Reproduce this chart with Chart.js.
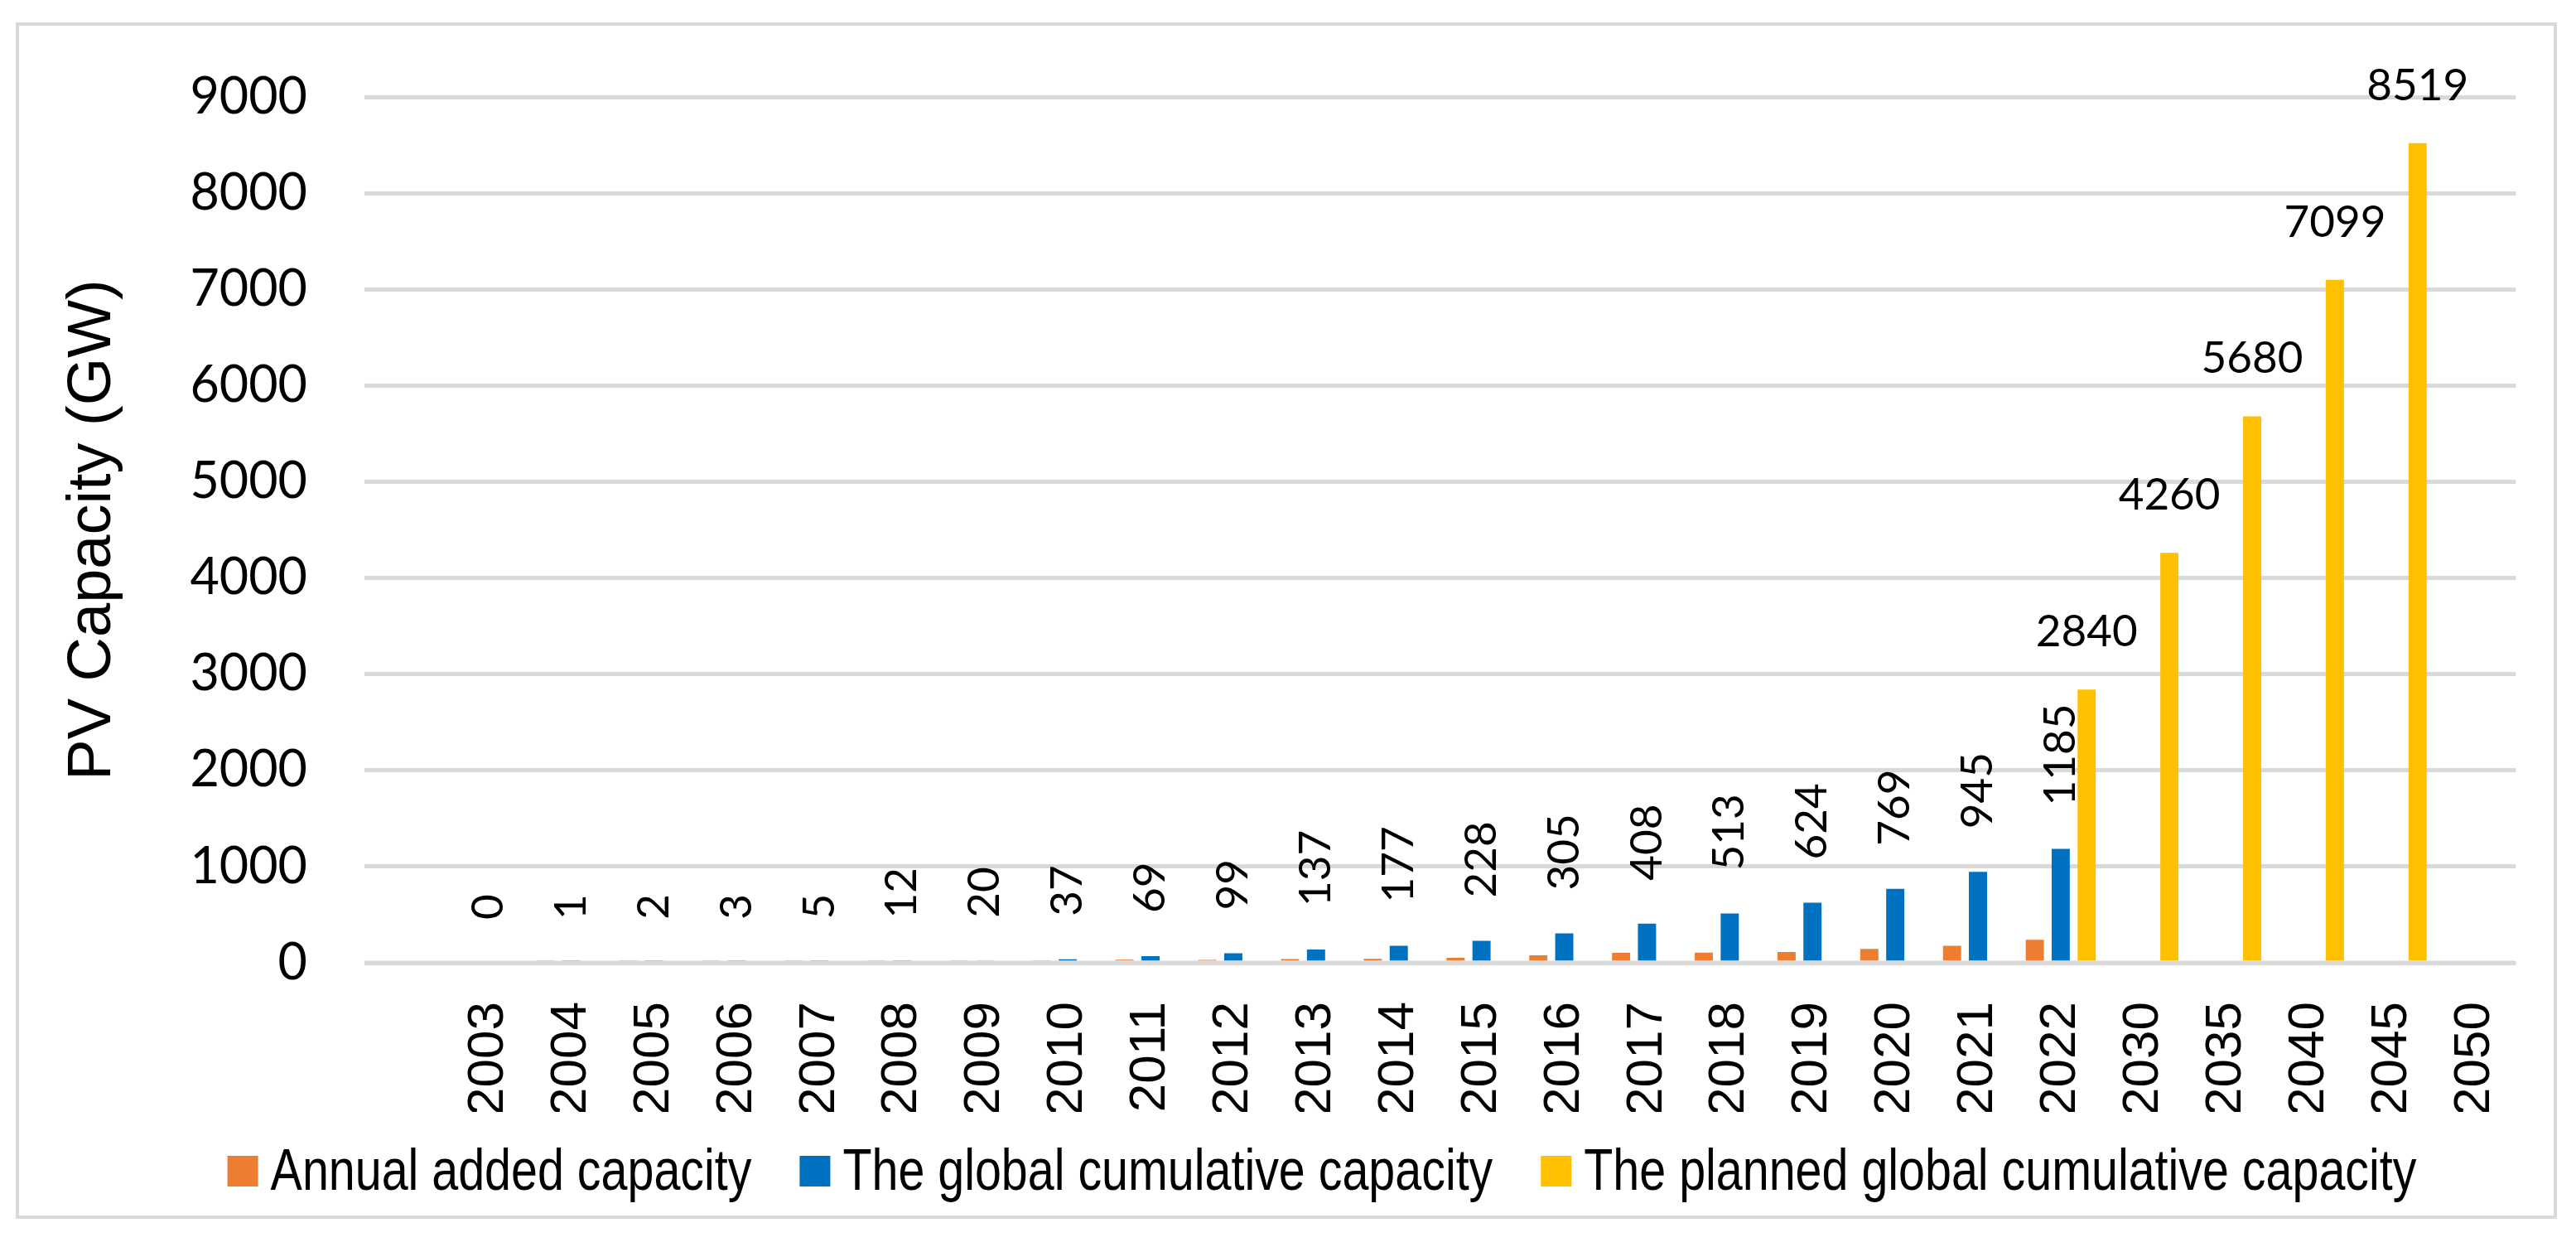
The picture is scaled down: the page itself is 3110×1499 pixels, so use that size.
<!DOCTYPE html>
<html lang="en">
<head>
  <meta charset="UTF-8">
  <title>PV Capacity (GW)</title>
  <script src="https://cdn.jsdelivr.net/npm/chart.js"></script>
  <style>
    html, body { margin: 0; padding: 0; background: #fff; }
  </style>
</head>
<body>
<canvas id="grafico" width="3110" height="1499"></canvas>

<script>
  // first category is empty in the original sheet
  const years = ['', '2003', '2004', '2005', '2006', '2007', '2008', '2009', '2010', '2011', '2012',
    '2013', '2014', '2015', '2016', '2017', '2018', '2019', '2020', '2021', '2022',
    '2030', '2035', '2040', '2045', '2050'];

  const annualAdded = [null, 0, 1, 1, 1, 2, 7, 8, 17, 32, 30,
    38, 40, 51, 77, 103, 105, 111, 145, 176, 240,
    null, null, null, null, null];

  const cumulative = [null, 0, 1, 2, 3, 5, 12, 20, 37, 69, 99,
    137, 177, 228, 305, 408, 513, 624, 769, 945, 1185,
    null, null, null, null, null];

  const planned = [null, null, null, null, null, null, null, null, null, null, null,
    null, null, null, null, null, null, null, null, null, 2840,
    4260, 5680, 7099, 8519, null];

  const yMin = 0;
  const yMax = 9000;
  const yStep = 1000;

  // grey frame round the whole chart
  const marco = {
    id: 'marco',
    beforeDraw(chart) {
      const ctx = chart.ctx;
      ctx.save();
      ctx.fillStyle = '#fff';
      ctx.fillRect(0, 0, chart.width, chart.height);
      ctx.strokeStyle = '#d9d9d9';
      ctx.lineWidth = 4;
      ctx.strokeRect(21, 29, 3064, 1440);
      ctx.restore();
    }
  };

  // the zero line sits on top of the bars, like the category axis in Excel
  const lineaCero = {
    id: 'lineaCero',
    afterDatasetsDraw(chart) {
      const ctx = chart.ctx;
      const area = chart.chartArea;
      const y0 = chart.scales.y.getPixelForValue(0);
      ctx.save();
      ctx.strokeStyle = '#d9d9d9';
      ctx.lineWidth = 5;
      ctx.beginPath();
      ctx.moveTo(area.left, y0);
      ctx.lineTo(area.right, y0);
      ctx.stroke();
      ctx.restore();
    }
  };

  // value labels: vertical on the blue bars, flat on the yellow ones
  const etiquetas = {
    id: 'etiquetas',
    afterDatasetsDraw(chart) {
      const ctx = chart.ctx;
      ctx.save();
      ctx.fillStyle = '#000';
      ctx.font = '53px Lato';

      chart.getDatasetMeta(1).data.forEach((bar, i) => {
        const v = cumulative[i];
        if (v === null || isNaN(bar.y)) return;
        ctx.save();
        ctx.translate(bar.x, bar.y - 52);
        ctx.rotate(-Math.PI / 2);
        ctx.textAlign = 'left';
        ctx.textBaseline = 'middle';
        ctx.fillText(String(v), 0, 0);
        ctx.restore();
      });

      chart.getDatasetMeta(2).data.forEach((bar, i) => {
        const v = planned[i];
        if (v === null || isNaN(bar.y)) return;
        ctx.textAlign = 'center';
        ctx.textBaseline = 'alphabetic';
        ctx.fillText(String(v), bar.x, bar.y - 52);
      });
      ctx.restore();
    }
  };

  // legend in a narrow face (no Arial Narrow here, so squeeze Liberation Sans)
  const leyenda = {
    id: 'leyenda',
    afterDraw(chart) {
      const ctx = chart.ctx;
      const squeeze = 0.82;
      const box = 37, gapText = 15, gapItem = 58;
      const baseY = 1436, boxTop = 1395, centerX = 1596;
      ctx.save();
      ctx.font = '70px "Liberation Sans"';
      const items = chart.data.datasets.map(ds => ({
        text: ds.label,
        color: ds.backgroundColor,
        w: ctx.measureText(ds.label).width * squeeze
      }));
      let total = 0;
      items.forEach((it, i) => { total += box + gapText + it.w + (i ? gapItem : 0); });
      let x = centerX - total / 2;
      items.forEach(it => {
        ctx.fillStyle = it.color;
        ctx.fillRect(x, boxTop, box, box);
        ctx.fillStyle = '#000';
        ctx.save();
        ctx.translate(x + box + gapText, baseY);
        ctx.scale(squeeze, 1);
        ctx.textAlign = 'left';
        ctx.textBaseline = 'alphabetic';
        ctx.fillText(it.text, 0, 0);
        ctx.restore();
        x += box + gapText + it.w + gapItem;
      });
      ctx.restore();
    }
  };

  const ctx = document.getElementById('grafico').getContext('2d');
  new Chart(ctx, {
    type: 'bar',
    data: {
      labels: years,
      datasets: [
        { label: 'Annual added capacity', data: annualAdded, backgroundColor: '#ED7D31' },
        { label: 'The global cumulative capacity', data: cumulative, backgroundColor: '#0070C0' },
        { label: 'The planned global cumulative capacity', data: planned, backgroundColor: '#FFC000' }
      ]
    },
    options: {
      responsive: false,
      animation: false,
      devicePixelRatio: 1,
      categoryPercentage: 0.94,
      barPercentage: 0.7,
      layout: {
        padding: { left: 144, right: 62, top: 117, bottom: 157 }
      },
      scales: {
        x: {
          grid: { display: false, drawTicks: false },
          border: { display: false },
          ticks: {
            autoSkip: false,
            minRotation: 90,
            maxRotation: 90,
            padding: 47,
            color: '#000',
            font: { family: 'Liberation Sans', size: 62 }
          },
          afterFit: s => { s.height = 180; }
        },
        y: {
          min: yMin,
          max: yMax,
          grid: { color: '#d9d9d9', lineWidth: 5, drawTicks: false },
          border: { display: false },
          ticks: {
            stepSize: yStep,
            padding: 69,
            color: '#000',
            font: { family: 'Lato', size: 61 },
            callback: v => String(v)
          },
          title: {
            display: true,
            text: 'PV Capacity (GW)',
            color: '#000',
            padding: { top: -68, bottom: 0 },
            font: { family: 'Liberation Sans', size: 74, lineHeight: 1 }
          },
          afterFit: s => { s.width = 296; }
        }
      },
      plugins: {
        tooltip: { enabled: false },
        legend: { display: false }
      }
    },
    plugins: [marco, lineaCero, etiquetas, leyenda]
  });
</script>

</body>
</html>
